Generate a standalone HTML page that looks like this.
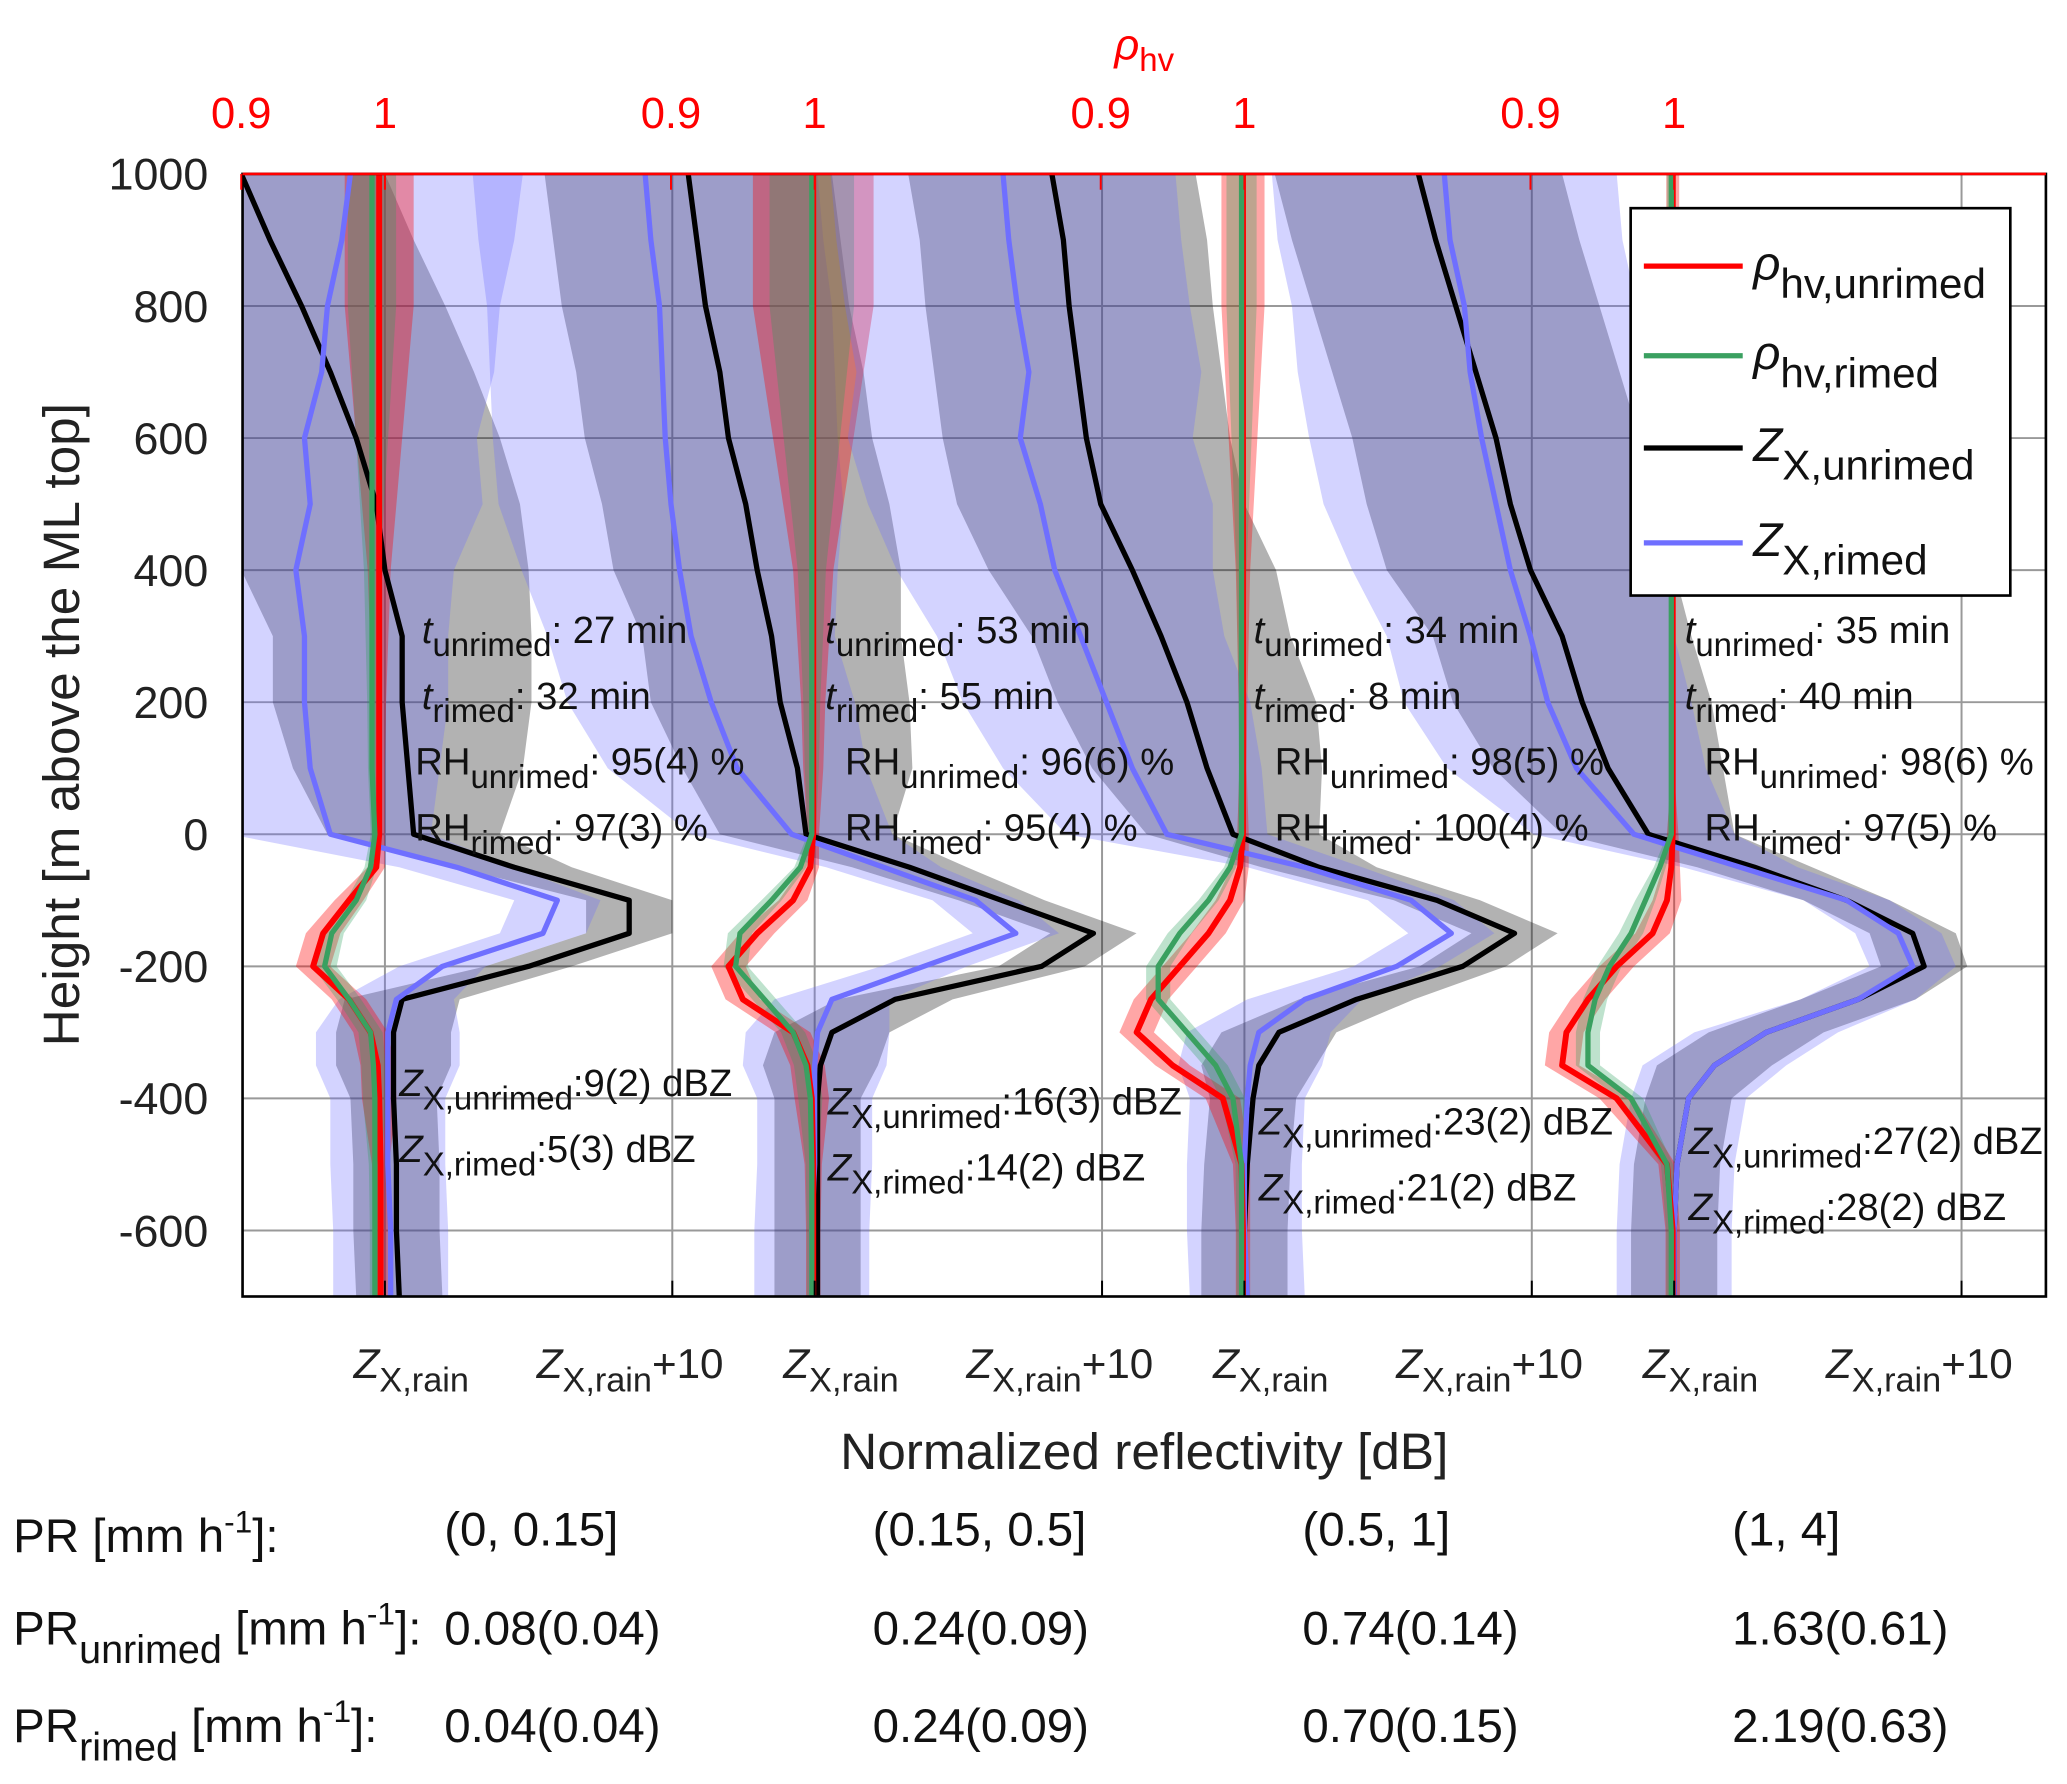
<!DOCTYPE html>
<html><head><meta charset="utf-8">
<style>
html,body{margin:0;padding:0;background:#fff;}
svg{display:block;font-family:"Liberation Sans",Arial,sans-serif;}
</style></head>
<body>
<svg id="chart" width="2067" height="1784" viewBox="0 0 1568 1354" preserveAspectRatio="none" xmlns="http://www.w3.org/2000/svg">
<defs><clipPath id="plotclip"><rect x="184" y="132" width="1368" height="852"/></clipPath></defs>
<rect x="0" y="0" width="1568" height="1354" fill="#fff"/>
<g id="grid"></g>
<g id="marks" clip-path="url(#plotclip)"></g>
<rect x="184" y="132" width="1368" height="852" fill="none" stroke="#000" stroke-width="2"/>
<line x1="184" y1="132" x2="1552" y2="132" stroke="#f00" stroke-width="2"/>
<g id="axes"></g>

<text x="868" y="45" fill="#f00" font-size="33" text-anchor="middle"><tspan font-style="italic">ρ</tspan><tspan font-size="25" dy="9">hv</tspan></text>
<text transform="translate(60,550) rotate(-90)" font-size="39" text-anchor="middle" fill="#222">Height [m above the ML top]</text>
<text x="868" y="1115" font-size="39" text-anchor="middle" fill="#222">Normalized reflectivity [dB]</text>

<g id="legend"></g>
<g id="annot" font-size="29" fill="#111"></g>

<g font-size="36" fill="#111">
<text x="10" y="1178">PR [mm h<tspan font-size="24" dy="-15">-1</tspan><tspan dy="15">]:</tspan></text>
<text x="10" y="1248">PR<tspan font-size="30" dy="14">unrimed</tspan><tspan dy="-14"> [mm h</tspan><tspan font-size="24" dy="-15">-1</tspan><tspan dy="15">]:</tspan></text>
<text x="10" y="1322">PR<tspan font-size="30" dy="14">rimed</tspan><tspan dy="-14"> [mm h</tspan><tspan font-size="24" dy="-15">-1</tspan><tspan dy="15">]:</tspan></text>
<text x="337" y="1173">(0, 0.15]</text><text x="662" y="1173">(0.15, 0.5]</text><text x="988" y="1173">(0.5, 1]</text><text x="1314" y="1173">(1, 4]</text>
<text x="337" y="1248">0.08(0.04)</text><text x="662" y="1248">0.24(0.09)</text><text x="988" y="1248">0.74(0.14)</text><text x="1314" y="1248">1.63(0.61)</text>
<text x="337" y="1322">0.04(0.04)</text><text x="662" y="1322">0.24(0.09)</text><text x="988" y="1322">0.70(0.15)</text><text x="1314" y="1322">2.19(0.63)</text>
</g>
</svg>
<script>
const heights = [1000,900,800,700,600,500,400,300,200,100,0,-50,-100,-150,-200,-250,-300,-350,-400,-500,-600,-700];
const yTicks = [1000,800,600,400,200,0,-200,-400,-600];
const panelNames = ['pr-0-0.15','pr-0.15-0.5','pr-0.5-1','pr-1-4'];
// Z in dB relative to Z_X,rain of each panel
const zUnrimed1 = [-5,-4,-2.9,-1.9,-1,-0.3,0,0.6,0.6,0.8,1,4.5,8.5,8.5,5,0.6,0.3,0.3,0.3,0.4,0.4,0.5];
const zRimed1   = [-1.2,-1.5,-2,-2.2,-2.8,-2.6,-3.1,-2.8,-2.8,-2.6,-1.9,2.5,6,5.5,2,0.4,0.1,0.1,0.1,0.1,0.2,0.2];
const zUnrimed2 = [-4.4,-4.1,-3.8,-3.3,-3,-2.4,-2,-1.5,-1.2,-0.6,-0.3,3.3,6.5,9.7,7.9,2.8,0.6,0.2,0.1,0.1,0.1,0.1];
const zRimed2   = [-5.9,-5.7,-5.4,-5.3,-5.2,-5,-4.7,-4.3,-3.6,-2.7,-0.8,2.4,5.6,7,3.8,0.6,0.1,0,0,0,-0.1,-0.1];
const zUnrimed3 = [-6.7,-6.3,-6.1,-5.8,-5.5,-5,-3.9,-2.9,-2,-1.3,-0.4,2.6,6.7,9.4,7.6,3.9,1.2,0.5,0.3,0.1,0,0];
const zRimed3   = [-8.4,-8.2,-7.9,-7.5,-7.8,-7.1,-6.6,-5.7,-4.8,-3.9,-2.7,2.1,5.8,7.2,5.3,2.1,0.5,0.2,0.1,0,0,0.1];
const zUnrimed4 = [-8.9,-8.3,-7.6,-6.9,-6.2,-5.7,-5,-3.9,-3.2,-2.3,-0.9,2.8,6,8.3,8.7,6.4,3.2,1.4,0.5,0.1,0,0];
const zRimed4   = [-8,-7.8,-7.3,-7.1,-6.7,-6.2,-5.7,-5,-4.4,-3.4,-1.4,2.3,6,7.8,8.3,6.4,3.2,1.4,0.5,0.1,0,0];
const rhoUnrimed1 = [.996,.996,.996,.996,.996,.996,.996,.996,.996,.996,.996,.994,.975,.957,.95,.975,.99,.995,.996,.997,.997,.997];
const rhoRimed1   = [.991,.991,.991,.991,.991,.991,.991,.991,.991,.991,.993,.99,.98,.963,.958,.975,.99,.992,.993,.993,.993,.993];
const rhoUnrimed2 = [.999,.999,.999,.999,.999,.999,.999,.999,.999,.999,.999,.997,.985,.96,.94,.95,.985,.995,.998,.999,.999,.999];
const rhoRimed2   = [.998,.998,.998,.998,.998,.998,.998,.998,.998,.998,.998,.99,.97,.948,.945,.965,.985,.994,.997,.998,.998,.998];
const rhoUnrimed3 = [.999,.999,.999,.999,.999,.999,.999,.999,.999,.999,.999,.997,.99,.975,.955,.935,.925,.95,.985,.998,.999,.999];
const rhoRimed3   = [.998,.998,.998,.998,.998,.998,.998,.998,.998,.998,.998,.99,.975,.955,.94,.94,.96,.98,.992,.998,.998,.998];
const rhoUnrimed4 = [.999,.999,.999,.999,.999,.999,.999,.999,.999,.999,.999,.998,.995,.985,.96,.94,.925,.922,.96,.995,.999,.999];
const rhoRimed4   = [.998,.998,.998,.998,.998,.998,.998,.998,.998,.998,.998,.99,.98,.97,.955,.945,.94,.94,.97,.995,.998,.998];
const zUnrimedSpread = [5,5,5,5,5,5,5,4.5,4.5,4,3,2,1.5,1.5,1.5,2,2,2,1.5,1.5,1.5,1.5];
const zRimedSpread   = [6,6,6,6,6,6,5.5,5,5,4.5,3.5,2,1.5,1.5,1.5,2,2.5,2.5,2,2,2,2];
const rhoSpread      = [.03,.03,.03,.025,.02,.015,.01,.008,.006,.005,.004,.006,.01,.012,.012,.012,.012,.012,.012,.006,.005,.005];
const rhoUpperSpreadScale = [0.8,1.4,0.5,0.15];

const zU=[zUnrimed1,zUnrimed2,zUnrimed3,zUnrimed4], zR=[zRimed1,zRimed2,zRimed3,zRimed4];
const rU=[rhoUnrimed1,rhoUnrimed2,rhoUnrimed3,rhoUnrimed4], rR=[rhoRimed1,rhoRimed2,rhoRimed3,rhoRimed4];

const NS='http://www.w3.org/2000/svg';
const PX_PER_DB=21.8, PANEL0=292, PANEL_STEP=326;
function yScale(h){ return 132 + (1000-h)*(852/1700); }
function xZ(p,db){ return PANEL0 + p*PANEL_STEP + db*PX_PER_DB; }
function xRho(p,r){ return xZ(p,(r-1)*50); }
function mk(tag,attrs,parent){ const e=document.createElementNS(NS,tag); for(const k in attrs) e.setAttribute(k,attrs[k]); parent.appendChild(e); return e; }
function sub(parent,parts){
  parts.forEach(pt=>{
    const t=mk('tspan',{},parent);
    if(pt[1]) t.setAttribute('font-size',pt[1]);
    if(pt[2]) t.setAttribute('dy',pt[2]);
    if(pt[3]) t.setAttribute('font-style','italic');
    t.textContent=pt[0];
  });
}

const grid=document.getElementById('grid'), marks=document.getElementById('marks'), axes=document.getElementById('axes'), annot=document.getElementById('annot'), legend=document.getElementById('legend');
yTicks.forEach(t=>{
  const y=yScale(t);
  const l=mk('line',{x1:184,x2:1552,y1:y,y2:y,stroke:'#999','stroke-width':1.5},grid);
  
  
  const tx=mk('text',{x:158,y:y+12,'font-size':34,'text-anchor':'end',fill:'#222'},axes);
  tx.textContent=t;
  
  
});
for(let p=0;p<4;p++){
  [0,10].forEach(db=>{
    const x=xZ(p,db);
    const l=mk('line',{x1:x,x2:x,y1:132,y2:984,stroke:'#999','stroke-width':1.5},grid);
    
    
    mk('line',{x1:x,x2:x,y1:984,y2:972,stroke:'#000','stroke-width':1.5},axes);
    const tx=mk('text',{x:db?x-32:x+20,y:1046,'font-size':32,'text-anchor':'middle',fill:'#222'},axes);
    const parts=[['Z',null,null,true],['X,rain',26,10,false]];
    if(db) parts.push(['+10',null,-10,false]);
    sub(tx,parts);
    
    
  });
  [0.9,1].forEach(r=>{
    const x=xRho(p,r);
    mk('line',{x1:x,x2:x,y1:132,y2:144,stroke:'#f00','stroke-width':1.5},axes);
    const tx=mk('text',{x:x,y:97,'font-size':33,'text-anchor':'middle',fill:'#f00'},axes);
    tx.textContent=r===1?'1':'0.9';
    
    
  });
}
function band(fnx,vals,spread,kUpper,kAll,fill,name){
  const w=i=>spread[i]*kAll*(heights[i]>0?kUpper:1);
  const pts=[];
  for(let i=0;i<heights.length;i++) pts.push(fnx(vals[i]-w(i))+','+yScale(heights[i]));
  for(let i=heights.length-1;i>=0;i--) pts.push(fnx(vals[i]+w(i))+','+yScale(heights[i]));
  const e=mk('polygon',{points:pts.join(' '),fill:fill},marks);
  
  
}
function line(fnx,vals,stroke,w,name){
  const pts=heights.map((h,i)=>fnx(vals[i])+','+yScale(h)).join(' ');
  const e=mk('polyline',{points:pts,fill:'none',stroke:stroke,'stroke-width':w,'stroke-linejoin':'round'},marks);
  
  
}
for(let p=0;p<4;p++){
  const fz=v=>xZ(p,v), fr=v=>xRho(p,v);
  band(fz,zU[p],zUnrimedSpread,1,1,'rgba(0,0,0,0.3)','z-unrimed-band-'+panelNames[p]);
  band(fz,zR[p],zRimedSpread,1,1,'rgba(110,110,255,0.3)','z-rimed-band-'+panelNames[p]);
  band(fr,rU[p],rhoSpread,rhoUpperSpreadScale[p],1,'rgba(255,0,0,0.35)','rho-unrimed-band-'+panelNames[p]);
  band(fr,rR[p],rhoSpread,rhoUpperSpreadScale[p],0.7,'rgba(40,160,90,0.3)','rho-rimed-band-'+panelNames[p]);
}
for(let p=0;p<4;p++){
  const fz=v=>xZ(p,v), fr=v=>xRho(p,v);
  line(fz,zU[p],'#000',4,'z-unrimed-line-'+panelNames[p]);
  line(fz,zR[p],'#6f6fff',4,'z-rimed-line-'+panelNames[p]);
  line(fr,rU[p],'#f00',4.5,'rho-unrimed-line-'+panelNames[p]);
  line(fr,rR[p],'#3aa060',4,'rho-rimed-line-'+panelNames[p]);
}
const lgRect=mk('rect',{x:1237,y:158,width:288,height:294,fill:'#fff',stroke:'#000','stroke-width':2},legend);


const lgItems=[['#f00','ρ','hv,unrimed',202],['#3aa060','ρ','hv,rimed',270],['#000','Z','X,unrimed',340],['#6f6fff','Z','X,rimed',412]];
lgItems.forEach(it=>{
  mk('line',{x1:1247,x2:1322,y1:it[3],y2:it[3],stroke:it[0],'stroke-width':4},legend);
  const t=mk('text',{x:1330,y:it[3]+10,'font-size':36,fill:'#111'},legend);
  sub(t,[[it[1],null,null,true],[it[2],32,14,false]]);
  
  
});

const tU=['27','53','34','35'], tR=['32','55','8','40'], rhU=['95(4)','96(6)','98(5)','98(6)'], rhR=['97(3)','95(4)','100(4)','97(5)'];
const zUa=['9(2)','16(3)','23(2)','27(2)'], zRa=['5(3)','14(2)','21(2)','28(2)'];
const annX=[320,626,951,1278], rhX=[315,641,967,1293], zX=[303,628,955,1281], zY=[832,846,861,876];
function add(x,y,parts,name){
  const t=mk('text',{x:x,y:y},annot);
  sub(t,parts);
  
  
}
for(let p=0;p<4;p++){
  add(annX[p],488,[['t',null,null,true],['unrimed',25,10,false],[': '+tU[p]+' min',null,-10,false]],'t-unrimed-label');
  add(annX[p],538,[['t',null,null,true],['rimed',25,10,false],[': '+tR[p]+' min',null,-10,false]],'t-rimed-label');
  add(rhX[p],588,[['RH',null,null,false],['unrimed',25,10,false],[': '+rhU[p]+' %',null,-10,false]],'rh-unrimed-label');
  add(rhX[p],638,[['RH',null,null,false],['rimed',25,10,false],[': '+rhR[p]+' %',null,-10,false]],'rh-rimed-label');
  add(zX[p],zY[p],[['Z',null,null,true],['X,unrimed',25,10,false],[':'+zUa[p]+' dBZ',null,-10,false]],'z-unrimed-label');
  add(zX[p],zY[p]+50,[['Z',null,null,true],['X,rimed',25,10,false],[':'+zRa[p]+' dBZ',null,-10,false]],'z-rimed-label');
}
</script>
</body></html>
